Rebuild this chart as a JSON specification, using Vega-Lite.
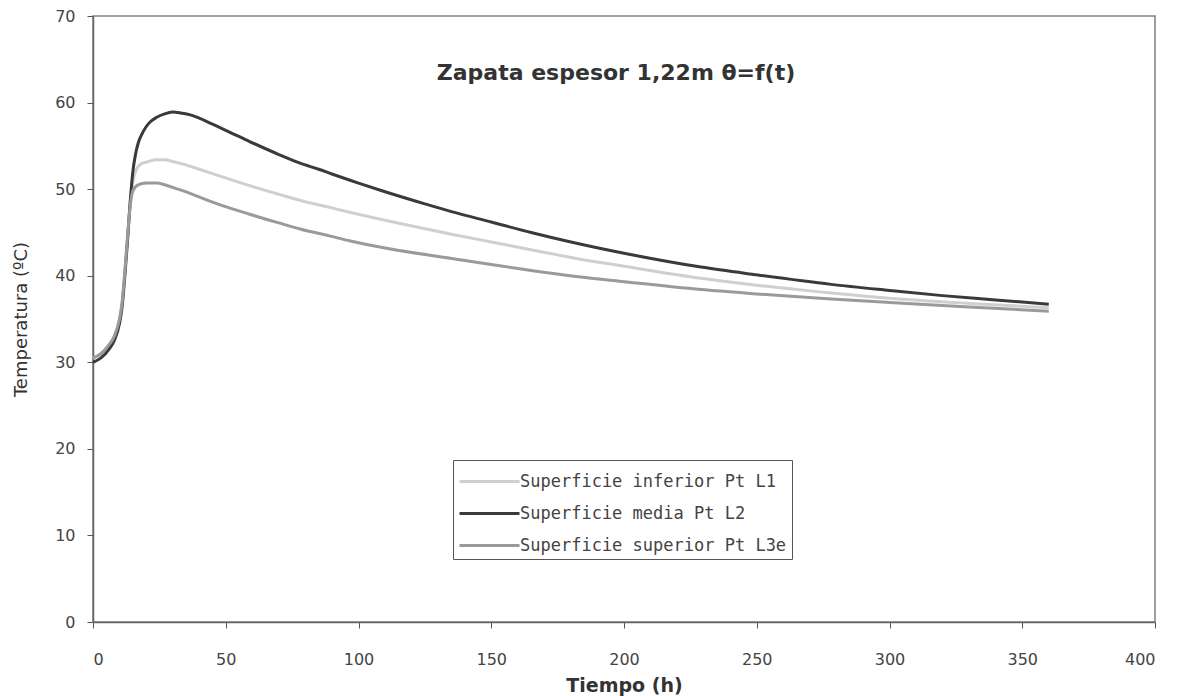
{
  "$schema": "https://vega.github.io/schema/vega-lite/v6.json",
  "autosize": {"type": "none"},
  "width": 1062,
  "height": 606,
  "padding": {"left": 93, "top": 16, "right": 25, "bottom": 74},
  "background": "white",
  "config": {
    "view": {"stroke": "#808080", "strokeWidth": 1.5},
    "font": "DejaVu Sans"
  },
  "title": {
    "text": "Zapata espesor 1,22m θ=f(t)",
    "font": "DejaVu Sans",
    "fontSize": 22,
    "fontWeight": "bold",
    "color": "#333333",
    "anchor": "middle",
    "offset": -77,
    "dx": -8
  },
  "data": {
    "values": [
      {"t": 0, "serie": "Superficie inferior Pt L1", "T": 30.5},
      {"t": 3, "serie": "Superficie inferior Pt L1", "T": 31.0},
      {"t": 6, "serie": "Superficie inferior Pt L1", "T": 32.0},
      {"t": 8, "serie": "Superficie inferior Pt L1", "T": 33.0},
      {"t": 10, "serie": "Superficie inferior Pt L1", "T": 35.0},
      {"t": 11, "serie": "Superficie inferior Pt L1", "T": 37.0},
      {"t": 12, "serie": "Superficie inferior Pt L1", "T": 40.5},
      {"t": 13, "serie": "Superficie inferior Pt L1", "T": 44.5},
      {"t": 14, "serie": "Superficie inferior Pt L1", "T": 48.5},
      {"t": 15, "serie": "Superficie inferior Pt L1", "T": 50.8},
      {"t": 16, "serie": "Superficie inferior Pt L1", "T": 52.0},
      {"t": 18, "serie": "Superficie inferior Pt L1", "T": 52.9},
      {"t": 21, "serie": "Superficie inferior Pt L1", "T": 53.2},
      {"t": 24, "serie": "Superficie inferior Pt L1", "T": 53.4},
      {"t": 27, "serie": "Superficie inferior Pt L1", "T": 53.4},
      {"t": 30, "serie": "Superficie inferior Pt L1", "T": 53.2},
      {"t": 35, "serie": "Superficie inferior Pt L1", "T": 52.8},
      {"t": 40, "serie": "Superficie inferior Pt L1", "T": 52.3},
      {"t": 45, "serie": "Superficie inferior Pt L1", "T": 51.8},
      {"t": 59, "serie": "Superficie inferior Pt L1", "T": 50.4},
      {"t": 70, "serie": "Superficie inferior Pt L1", "T": 49.4},
      {"t": 78, "serie": "Superficie inferior Pt L1", "T": 48.7},
      {"t": 89, "serie": "Superficie inferior Pt L1", "T": 47.9},
      {"t": 97, "serie": "Superficie inferior Pt L1", "T": 47.3},
      {"t": 110, "serie": "Superficie inferior Pt L1", "T": 46.4},
      {"t": 135, "serie": "Superficie inferior Pt L1", "T": 44.8},
      {"t": 150, "serie": "Superficie inferior Pt L1", "T": 43.9},
      {"t": 165, "serie": "Superficie inferior Pt L1", "T": 43.0},
      {"t": 182, "serie": "Superficie inferior Pt L1", "T": 42.0},
      {"t": 200, "serie": "Superficie inferior Pt L1", "T": 41.1},
      {"t": 229, "serie": "Superficie inferior Pt L1", "T": 39.7},
      {"t": 250, "serie": "Superficie inferior Pt L1", "T": 38.9},
      {"t": 278, "serie": "Superficie inferior Pt L1", "T": 38.0},
      {"t": 300, "serie": "Superficie inferior Pt L1", "T": 37.4},
      {"t": 330, "serie": "Superficie inferior Pt L1", "T": 36.8},
      {"t": 360, "serie": "Superficie inferior Pt L1", "T": 36.3},

      {"t": 0, "serie": "Superficie media Pt L2", "T": 30.0},
      {"t": 3, "serie": "Superficie media Pt L2", "T": 30.5},
      {"t": 6, "serie": "Superficie media Pt L2", "T": 31.5},
      {"t": 8, "serie": "Superficie media Pt L2", "T": 32.5},
      {"t": 10, "serie": "Superficie media Pt L2", "T": 34.5},
      {"t": 11, "serie": "Superficie media Pt L2", "T": 36.5},
      {"t": 12, "serie": "Superficie media Pt L2", "T": 40.0},
      {"t": 13, "serie": "Superficie media Pt L2", "T": 44.0},
      {"t": 14, "serie": "Superficie media Pt L2", "T": 48.5},
      {"t": 15, "serie": "Superficie media Pt L2", "T": 52.0},
      {"t": 16, "serie": "Superficie media Pt L2", "T": 54.0},
      {"t": 17, "serie": "Superficie media Pt L2", "T": 55.3},
      {"t": 19, "serie": "Superficie media Pt L2", "T": 56.7},
      {"t": 21, "serie": "Superficie media Pt L2", "T": 57.6},
      {"t": 24, "serie": "Superficie media Pt L2", "T": 58.3},
      {"t": 27, "serie": "Superficie media Pt L2", "T": 58.7},
      {"t": 30, "serie": "Superficie media Pt L2", "T": 58.9},
      {"t": 33, "serie": "Superficie media Pt L2", "T": 58.8},
      {"t": 37, "serie": "Superficie media Pt L2", "T": 58.55},
      {"t": 40, "serie": "Superficie media Pt L2", "T": 58.2},
      {"t": 45, "serie": "Superficie media Pt L2", "T": 57.5},
      {"t": 50, "serie": "Superficie media Pt L2", "T": 56.8},
      {"t": 59, "serie": "Superficie media Pt L2", "T": 55.5},
      {"t": 70, "serie": "Superficie media Pt L2", "T": 54.0},
      {"t": 78, "serie": "Superficie media Pt L2", "T": 53.0},
      {"t": 85, "serie": "Superficie media Pt L2", "T": 52.3},
      {"t": 90, "serie": "Superficie media Pt L2", "T": 51.75},
      {"t": 100, "serie": "Superficie media Pt L2", "T": 50.7},
      {"t": 110, "serie": "Superficie media Pt L2", "T": 49.7},
      {"t": 125, "serie": "Superficie media Pt L2", "T": 48.3},
      {"t": 135, "serie": "Superficie media Pt L2", "T": 47.4},
      {"t": 150, "serie": "Superficie media Pt L2", "T": 46.2},
      {"t": 165, "serie": "Superficie media Pt L2", "T": 45.0},
      {"t": 180, "serie": "Superficie media Pt L2", "T": 43.9},
      {"t": 200, "serie": "Superficie media Pt L2", "T": 42.6},
      {"t": 229, "serie": "Superficie media Pt L2", "T": 41.0},
      {"t": 250, "serie": "Superficie media Pt L2", "T": 40.1},
      {"t": 278, "serie": "Superficie media Pt L2", "T": 39.0},
      {"t": 300, "serie": "Superficie media Pt L2", "T": 38.3},
      {"t": 320, "serie": "Superficie media Pt L2", "T": 37.7},
      {"t": 340, "serie": "Superficie media Pt L2", "T": 37.2},
      {"t": 360, "serie": "Superficie media Pt L2", "T": 36.7},

      {"t": 0, "serie": "Superficie superior Pt L3e", "T": 30.5},
      {"t": 3, "serie": "Superficie superior Pt L3e", "T": 31.0},
      {"t": 6, "serie": "Superficie superior Pt L3e", "T": 32.0},
      {"t": 8, "serie": "Superficie superior Pt L3e", "T": 33.0},
      {"t": 10, "serie": "Superficie superior Pt L3e", "T": 35.0},
      {"t": 11, "serie": "Superficie superior Pt L3e", "T": 37.0},
      {"t": 12, "serie": "Superficie superior Pt L3e", "T": 40.5},
      {"t": 13, "serie": "Superficie superior Pt L3e", "T": 44.5},
      {"t": 14, "serie": "Superficie superior Pt L3e", "T": 48.0},
      {"t": 15, "serie": "Superficie superior Pt L3e", "T": 49.8},
      {"t": 17, "serie": "Superficie superior Pt L3e", "T": 50.5},
      {"t": 20, "serie": "Superficie superior Pt L3e", "T": 50.7},
      {"t": 24, "serie": "Superficie superior Pt L3e", "T": 50.7},
      {"t": 27, "serie": "Superficie superior Pt L3e", "T": 50.5},
      {"t": 30, "serie": "Superficie superior Pt L3e", "T": 50.2},
      {"t": 34, "serie": "Superficie superior Pt L3e", "T": 49.8},
      {"t": 40, "serie": "Superficie superior Pt L3e", "T": 49.1},
      {"t": 45, "serie": "Superficie superior Pt L3e", "T": 48.5},
      {"t": 59, "serie": "Superficie superior Pt L3e", "T": 47.1},
      {"t": 70, "serie": "Superficie superior Pt L3e", "T": 46.1},
      {"t": 78, "serie": "Superficie superior Pt L3e", "T": 45.4},
      {"t": 89, "serie": "Superficie superior Pt L3e", "T": 44.6},
      {"t": 97, "serie": "Superficie superior Pt L3e", "T": 44.0},
      {"t": 110, "serie": "Superficie superior Pt L3e", "T": 43.2},
      {"t": 135, "serie": "Superficie superior Pt L3e", "T": 42.0},
      {"t": 150, "serie": "Superficie superior Pt L3e", "T": 41.3},
      {"t": 165, "serie": "Superficie superior Pt L3e", "T": 40.6},
      {"t": 182, "serie": "Superficie superior Pt L3e", "T": 39.9},
      {"t": 200, "serie": "Superficie superior Pt L3e", "T": 39.3},
      {"t": 229, "serie": "Superficie superior Pt L3e", "T": 38.4},
      {"t": 250, "serie": "Superficie superior Pt L3e", "T": 37.9},
      {"t": 278, "serie": "Superficie superior Pt L3e", "T": 37.3},
      {"t": 300, "serie": "Superficie superior Pt L3e", "T": 36.9},
      {"t": 330, "serie": "Superficie superior Pt L3e", "T": 36.4},
      {"t": 360, "serie": "Superficie superior Pt L3e", "T": 35.9}
    ]
  },
  "mark": {"type": "line", "strokeWidth": 3, "interpolate": "monotone"},
  "encoding": {
    "x": {
      "field": "t",
      "type": "quantitative",
      "scale": {"domain": [0, 400], "nice": false, "zero": false},
      "axis": {
        "title": "Tiempo (h)",
        "values": [0, 50, 100, 150, 200, 250, 300, 350, 400],
        "grid": false,
        "domainColor": "#666666",
        "domainWidth": 1.5,
        "tickColor": "#555555",
        "tickSize": 6,
        "labelFont": "DejaVu Sans",
        "labelFontSize": 16,
        "labelColor": "#444444",
        "labelPadding": 23,
        "titleFont": "DejaVu Sans",
        "titleFontSize": 19,
        "titleFontWeight": "bold",
        "titleColor": "#333333",
        "titlePadding": 9
      }
    },
    "y": {
      "field": "T",
      "type": "quantitative",
      "scale": {"domain": [0, 70], "nice": false},
      "axis": {
        "title": "Temperatura (ºC)",
        "values": [0, 10, 20, 30, 40, 50, 60, 70],
        "grid": false,
        "domainColor": "#666666",
        "domainWidth": 1.5,
        "tickColor": "#555555",
        "tickSize": 6,
        "labelFont": "DejaVu Sans",
        "labelFontSize": 16,
        "labelColor": "#444444",
        "labelPadding": 12,
        "titleFont": "DejaVu Sans",
        "titleFontSize": 18,
        "titleFontWeight": "normal",
        "titleColor": "#333333",
        "titlePadding": 24
      }
    },
    "color": {
      "field": "serie",
      "type": "nominal",
      "scale": {
        "domain": ["Superficie inferior Pt L1", "Superficie media Pt L2", "Superficie superior Pt L3e"],
        "range": ["#cfcfcf", "#3a3a3a", "#9a9a9a"]
      },
      "legend": {
        "title": null,
        "orient": "none",
        "legendX": 360,
        "legendY": 444,
        "strokeColor": "#555555",
        "padding": 5,
        "symbolType": "M-1,0H3",
        "symbolSize": 900,
        "symbolStrokeWidth": 3,
        "labelFont": "DejaVu Sans Mono",
        "labelFontSize": 17,
        "labelColor": "#444444",
        "labelOffset": 29,
        "labelLimit": 500,
        "rowPadding": 7
      }
    }
  }
}
